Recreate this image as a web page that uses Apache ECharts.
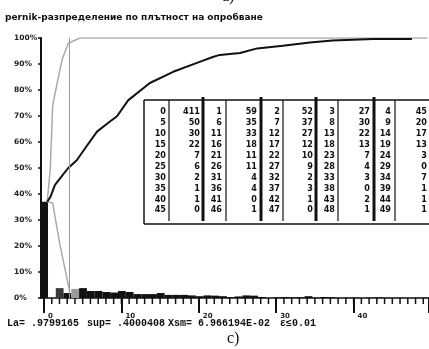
<!DOCTYPE html>
<html>
<head>
<meta charset="utf-8">
<title>pernik</title>
<script src="https://cdn.jsdelivr.net/npm/echarts@6/dist/echarts.min.js"></script>
<style>
  html, body { margin: 0; padding: 0; background: #fff; }
  #chart { width: 429px; height: 349px; }
</style>
</head>
<body>
<div id="chart"></div>
<script>
// histogram: density class and share of samples, %
const binX = [0, 1, 2, 3, 4, 5, 6, 7, 8, 9,
  10, 11, 12, 13, 14, 15, 16, 17, 18, 19,
  20, 21, 22, 23, 24, 25, 26, 27, 28, 29,
  30, 31, 32, 33, 34, 35, 36, 37, 38, 39,
  40, 41, 42, 43, 44, 45, 46, 47, 48, 49]
const binPct = [37, 0, 3.8, 1.9, 3.5, 3.8, 2.7, 2.7, 2.3, 2.1,
  2.7, 2.3, 1.5, 1.5, 1.5, 1.9, 1.2, 1.2, 1.2, 1.0,
  0.7, 1.0, 0.9, 0.7, 0.3, 0.6, 1.0, 0.9, 0.4, 0,
  0.2, 0.4, 0.2, 0.3, 0.7, 0.1, 0.4, 0.3, 0, 0.1,
  0.1, 0, 0.1, 0.2, 0.1, 0, 0.1, 0, 0.1, 0.1]

// cumulative curve (black)
const cumX = [0.4, 0.8, 1.4, 2.3, 3.1, 4.2, 5.3, 6.8, 8.1, 9.4, 10.8, 13.6, 16.6, 20, 21.7, 22.6, 25.2, 27.4, 30.7, 34.2, 37.1, 42.3, 47.3]
const cumY = [37, 38.8, 43.5, 47, 50, 53, 57.7, 64, 67, 70, 76, 82.7, 87, 90.8, 92.7, 93.5, 94.2, 96, 97, 98.3, 99, 99.6, 99.6]

// theoretical curves (grey)
const upX = [0.4, 0.8, 1.1, 1.7, 2.3, 3.1, 4.6, 49.3]
const upY = [37, 50, 74, 83, 91.5, 98, 100, 100]
const downX = [0.4, 1.1, 2.0, 3.3]
const downY = [37, 36.5, 21, 2.3]
const cutX = 3.2

// minor ticks of the class axis
const minorTicks = [0, 1, 2, 3, 4, 5, 6, 7, 8, 9,
  10, 11, 12, 13, 14, 15, 16, 17, 18, 19,
  20, 21, 22, 23, 24, 25, 26, 27, 28, 29,
  30, 31, 32, 33, 34, 35, 36, 37, 38, 39,
  40, 41, 42, 43, 44, 45, 46, 47, 48, 49]

// frequency table printed on the chart
const tableVals = [
  [0, 5, 10, 15, 20, 25, 30, 35, 40, 45],
  [1, 6, 11, 16, 21, 26, 31, 36, 41, 46],
  [2, 7, 12, 17, 22, 27, 32, 37, 42, 47],
  [3, 8, 13, 18, 23, 28, 33, 38, 43, 48],
  [4, 9, 14, 19, 24, 29, 34, 39, 44, 49]
]
const tableCounts = [
  [411, 50, 30, 22, 7, 6, 2, 1, 1, 0],
  [59, 35, 33, 18, 11, 11, 4, 4, 0, 1],
  [52, 37, 27, 12, 10, 9, 2, 3, 1, 0],
  [27, 30, 22, 13, 7, 4, 3, 0, 2, 1],
  [45, 20, 17, 13, 3, 0, 7, 1, 1, 1]
]

const pairs = (xs, ys) => xs.map((x, i) => [x, ys[i]])

const txt = (text, x, y, font, align) => ({
  type: 'text',
  z: 100,
  style: {
    text: text, x: x, y: y, font: font, fill: '#111',
    align: align || 'left', textAlign: align || 'left',
    verticalAlign: 'middle', textVerticalAlign: 'middle'
  }
})
const ln = (x1, y1, x2, y2, w) => ({
  type: 'line',
  z: 100,
  shape: { x1: x1, y1: y1, x2: x2, y2: y2 },
  style: { stroke: '#111', lineWidth: w }
})

// table layout
const buildTable = () => {
  const els = []
  const top = 100, bottom = 224, left = 144, right = 432
  els.push({ type: 'rect', z: 99, shape: { x: left, y: top, width: right - left, height: bottom - top }, style: { fill: '#fff' } })
  els.push(ln(left, top, right, top, 1.5))
  els.push(ln(left, bottom, right, bottom, 1.5))
  els.push(ln(left, top, left, bottom, 1.5))
  const thin = [169, 226, 283, 338, 395]
  const thick = [203, 261, 316, 374]
  thin.forEach(x => els.push(ln(x, top, x, bottom - 3, 1.2)))
  thick.forEach(x => els.push(ln(x, top - 3, x, bottom - 3, 3)))
  const vRight = [166, 222, 280, 335, 391]
  const cRight = [200, 257, 313, 370, 427]
  const font = 'bold 9px "DejaVu Sans Condensed", "DejaVu Sans"'
  tableVals.forEach((col, c) => {
    col.forEach((v, r) => {
      const y = 112 + r * 10.9
      els.push(txt(String(v), vRight[c], y, font, 'right'))
      els.push(txt(String(tableCounts[c][r]), cRight[c], y, font, 'right'))
    })
  })
  return els
}

const chart = echarts.init(document.getElementById('chart'))

const axisFont = { fontFamily: 'DejaVu Sans', fontWeight: 'bold', color: '#222' }
const monoFont = 'bold 10px "Liberation Mono", "DejaVu Sans Mono", monospace'

chart.setOption({
  animation: false,
  backgroundColor: '#fff',
  grid: [
    { left: 41, right: 0, top: 38, bottom: 51 },
    // tick strips under the axis, same scale as the data grid, starting at class 0
    { left: 44, right: -2, top: 298, height: 6 },
    { left: 44, right: -2, top: 298, height: 15 }
  ],
  xAxis: [
    {
      type: 'value',
      gridIndex: 0,
      min: -0.4,
      max: 49.5,
      axisLine: { onZero: false, lineStyle: { color: '#111', width: 1.5 } },
      axisTick: { show: false },
      axisLabel: { show: false },
      splitLine: { show: false }
    },
    {
      type: 'value',
      gridIndex: 1,
      min: 0,
      max: 49.74,
      axisLine: { show: false },
      axisTick: { show: false },
      axisLabel: { show: false },
      splitLine: { show: false }
    },
    {
      type: 'value',
      gridIndex: 2,
      min: 0,
      max: 49.74,
      interval: 10,
      axisLine: { show: false },
      axisTick: { show: false },
      axisLabel: Object.assign({ fontSize: 7, align: 'left', margin: 0, padding: [0, 0, 0, 4], showMaxLabel: false }, axisFont),
      splitLine: { show: true, lineStyle: { color: '#111', width: 2 } }
    }
  ],
  yAxis: [
    {
      type: 'value',
      gridIndex: 0,
      min: 0,
      max: 100,
      interval: 10,
      axisLine: { show: true, onZero: false, lineStyle: { color: '#111', width: 2 } },
      axisTick: { show: true, length: 3, lineStyle: { color: '#111', width: 1.5 } },
      axisLabel: Object.assign({ formatter: '{value}%', fontSize: 7.5, align: 'left', margin: 27 }, axisFont),
      splitLine: { show: false }
    },
    { type: 'value', gridIndex: 1, show: false, min: 0, max: 1, splitLine: { show: false } },
    { type: 'value', gridIndex: 2, show: false, min: 0, max: 1, splitLine: { show: false } }
  ],
  series: [
    {
      type: 'bar',
      data: pairs(binX, binPct),
      barWidth: 7.8,
      itemStyle: {
        color: p => (p.dataIndex === 2 ? '#3a3a3a' : p.dataIndex === 4 ? '#9a9a9a' : '#111')
      }
    },
    {
      type: 'line',
      data: pairs(downX, downY),
      symbol: 'none',
      lineStyle: { color: '#aaa', width: 1.5 }
    },
    {
      type: 'line',
      data: pairs(upX, upY),
      symbol: 'none',
      lineStyle: { color: '#aaa', width: 1.5 },
      markLine: {
        silent: true,
        symbol: 'none',
        label: { show: false },
        lineStyle: { color: '#999', width: 1, type: 'solid' },
        data: [{ xAxis: cutX }]
      }
    },
    {
      type: 'line',
      data: pairs(cumX, cumY),
      symbol: 'none',
      lineStyle: { color: '#111', width: 2 }
    },
    {
      // minor tick marks hanging under the class axis
      type: 'bar',
      xAxisIndex: 1,
      yAxisIndex: 1,
      silent: true,
      data: minorTicks.map(v => [v, 1]),
      barWidth: 1.5,
      itemStyle: { color: '#111' }
    }
  ],
  graphic: [
    txt('a)', 222, -3, '16px "Liberation Serif", serif'),
    txt('pernik-разпределение по плътност на опробване', 5, 18, 'bold 9px "DejaVu Sans"'),
    txt('La= .9799165', 7, 323, monoFont),
    txt('sup= .4000408', 87, 323, monoFont),
    txt('Xsm= 6.966194E-02', 168, 323, monoFont),
    txt('ε≤0.01', 280, 323, monoFont),
    txt('c)', 227, 339, '16px "Liberation Serif", serif')
  ].concat(buildTable())
})
</script>
</body>
</html>
